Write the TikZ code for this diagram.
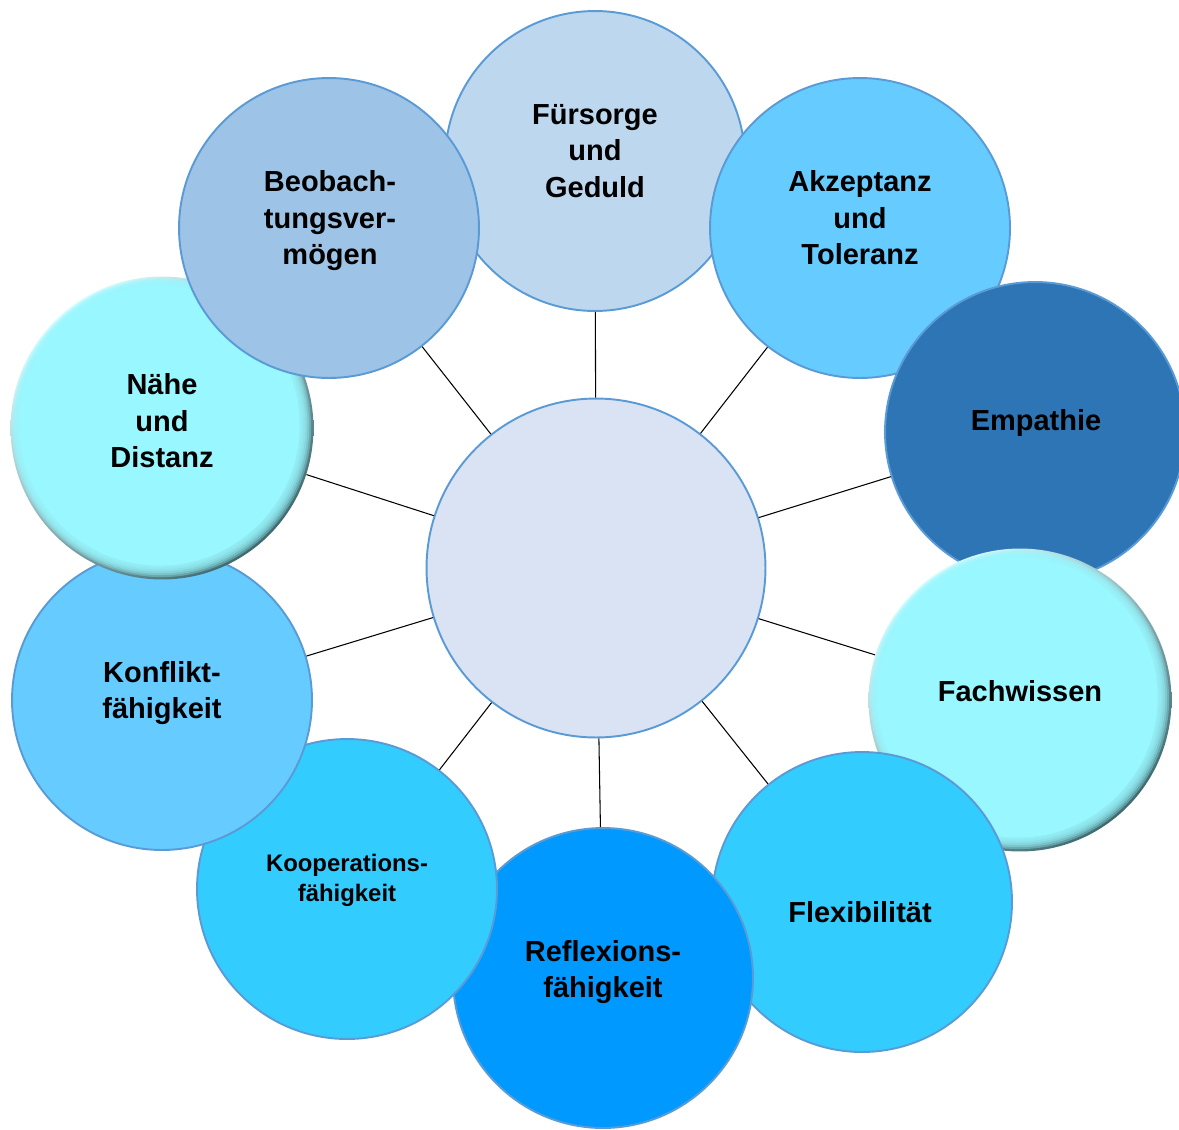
\documentclass[tikz,border=0pt]{standalone}
\usepackage{fontspec}
\setmainfont{Liberation Sans}

\definecolor{fuerblue}{HTML}{BDD7EE}
\definecolor{beobblue}{HTML}{9DC3E6}
\definecolor{skyblue}{HTML}{66CCFF}
\definecolor{empblue}{HTML}{2E75B6}
\definecolor{coopblue}{HTML}{33CCFF}
\definecolor{reflblue}{HTML}{0099FF}
\definecolor{ctrblue}{HTML}{DAE3F3}
\definecolor{edgeblue}{HTML}{5B9BD5}
\definecolor{aqua}{HTML}{99F7FF}
\definecolor{aquahi}{HTML}{D4FDFF}
\definecolor{aquadark}{HTML}{3F6A70}

\tikzset{
  bubble/.style={circle, minimum size=6cm, inner sep=0pt, draw=edgeblue, line width=1.1pt},
  bevel/.style={circle, minimum size=6.06cm, inner sep=0pt,
    path picture={
      \shade[top color=aquahi, bottom color=aquadark, shading angle=40]
        (path picture bounding box.south west) rectangle (path picture bounding box.north east);
      \foreach \i in {1,...,6}
        \fill[aqua, opacity=0.35] ([shift={(-0.4*\i,-0.4*\i)}]path picture bounding box.center)
          circle ({(151-1.5*\i)*0.02cm});
      \fill[aqua] ([shift={(-2.4,-2.4)}]path picture bounding box.center) circle (2.8cm);
    }},
  txt/.style={font=\bfseries\fontsize{16.5}{20.8}\selectfont, align=center},
  smalltxt/.style={font=\bfseries\fontsize{13.6}{17.2}\selectfont, align=center},
  link/.style={black, line width=0.6pt}
}

\begin{document}
\begin{tikzpicture}[x=0.02cm, y=-0.02cm]
    \useasboundingbox (0,0) rectangle (1179,1129);
    % Centre circle
    \node[bubble, fill=ctrblue, minimum size=6.78cm] (ctr) at (596,568) {};
    % Outer circles, clockwise, each one over the last
    \node[bubble, fill=fuerblue] (fuer) at (595,161) {};
    \node[bubble, fill=skyblue] (akz) at (860,228) {};
    \node[bubble, fill=empblue] (emp) at (1035,432) {};
    \node[bevel] (fach) at (1020,700) {};
    \node[bubble, fill=coopblue] (flex) at (862,902) {};
    \node[bubble, fill=reflblue] (refl) at (603,978) {};
    \node[bubble, fill=coopblue] (koop) at (347,889) {};
    \node[bubble, fill=skyblue] (konf) at (162,700) {};
    \node[bevel] (naehe) at (162,428) {};
    \node[bubble, fill=beobblue] (beob) at (329,228) {};
    % Labels
    \node[txt] (fuer-t) at (595,151) {Fürsorge\\und\\Geduld};
    \node[txt] (akz-t) at (860,218) {Akzeptanz\\und\\Toleranz};
    \node[txt] (emp-t) at (1036,423) {Empathie};
    \node[txt] (fach-t) at (1020,691) {Fachwissen};
    \node[txt] (flex-t) at (860,912) {Flexibilität};
    \node[txt] (refl-t) at (603,972) {Reflexions-\\fähigkeit};
    \node[smalltxt] (koop-t) at (347,880) {Kooperations-\\fähigkeit};
    \node[txt] (konf-t) at (162,693) {Konflikt-\\fähigkeit};
    \node[txt] (naehe-t) at (162,421) {Nähe\\und\\Distanz};
    \node[txt] (beob-t) at (330,221) {Beobach-\\tungsver-\\mögen};
    % Spokes from the centre
    \foreach \n in {fuer,akz,emp,fach,flex,refl,koop,konf,naehe,beob}
        \draw[link] (ctr) -- (\n);
\end{tikzpicture}
\end{document}
